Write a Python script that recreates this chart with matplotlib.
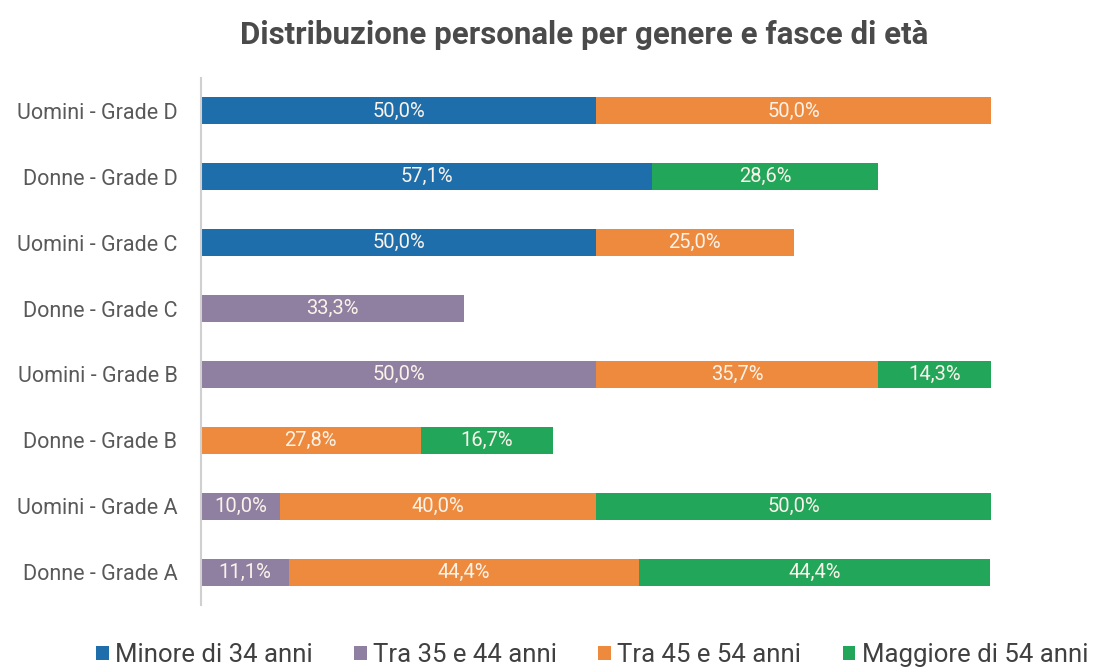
import matplotlib.pyplot as plt
import numpy as np

plt.rcParams['font.family'] = ['Roboto', 'DejaVu Sans']

# categorie (dal basso verso l'alto)
categorie = ["Donne - Grade A", "Uomini - Grade A", "Donne - Grade B", "Uomini - Grade B",
             "Donne - Grade C", "Uomini - Grade C", "Donne - Grade D", "Uomini - Grade D"]
fasce = ["Minore di 34 anni", "Tra 35 e 44 anni", "Tra 45 e 54 anni", "Maggiore di 54 anni"]

minore_34 = [0, 0, 0, 0, 0, 50.0, 57.1, 50.0]
tra_35_44 = [11.1, 10.0, 0, 50.0, 33.3, 0, 0, 0]
tra_45_54 = [44.4, 40.0, 27.8, 35.7, 0, 25.0, 0, 50.0]
maggiore_54 = [44.4, 50.0, 16.7, 14.3, 0, 0, 28.6, 0]

colori = ["#1F6EAC", "#8F7FA0", "#EE8A3D", "#22A65A"]

fig = plt.figure(figsize=(10.97, 6.69), dpi=100)
ax = fig.add_axes([201/1097, 1 - 605/669, 790/1097, 527/669])

y = np.arange(len(categorie))
left = np.zeros(len(categorie))
for serie, nome, col in zip([minore_34, tra_35_44, tra_45_54, maggiore_54], fasce, colori):
    vals = np.array(serie)
    bars = ax.barh(y, vals, left=left, height=0.41, color=col, label=nome)
    for b, v in zip(bars, vals):
        if v > 0:
            ax.text(b.get_x() + b.get_width() / 2, b.get_y() + b.get_height() / 2,
                    f"{v:.1f}%".replace(".", ","), ha="center", va="center",
                    color="#fbf3ea", fontsize=14.5)
    left += vals

ax.set_xlim(0, 100)
ax.set_ylim(-0.5, 7.5)
ax.set_yticks(y)
ax.set_yticklabels(categorie, fontsize=15.5, color="#595959")
ax.tick_params(axis="y", length=0, pad=17)
ax.set_xticks([])
for s in ["top", "right", "bottom"]:
    ax.spines[s].set_visible(False)
ax.spines["left"].set_color("#d0d0d0")
ax.spines["left"].set_linewidth(1.5)

fig.text(584/1097, 1 - 35/669, "Distribuzione personale per genere e fasce di età",
         ha="center", va="center", fontsize=22.5, fontweight="bold", color="#4a4a4a")

fig.legend(loc="center", bbox_to_anchor=(592/1097, 1 - 655/669), ncol=4, frameon=False,
           fontsize=18.5, handlelength=0.5, handleheight=0.5, handletextpad=0.25,
           columnspacing=1.6, labelcolor="#404040")

fig.savefig("out.png", dpi=100)
